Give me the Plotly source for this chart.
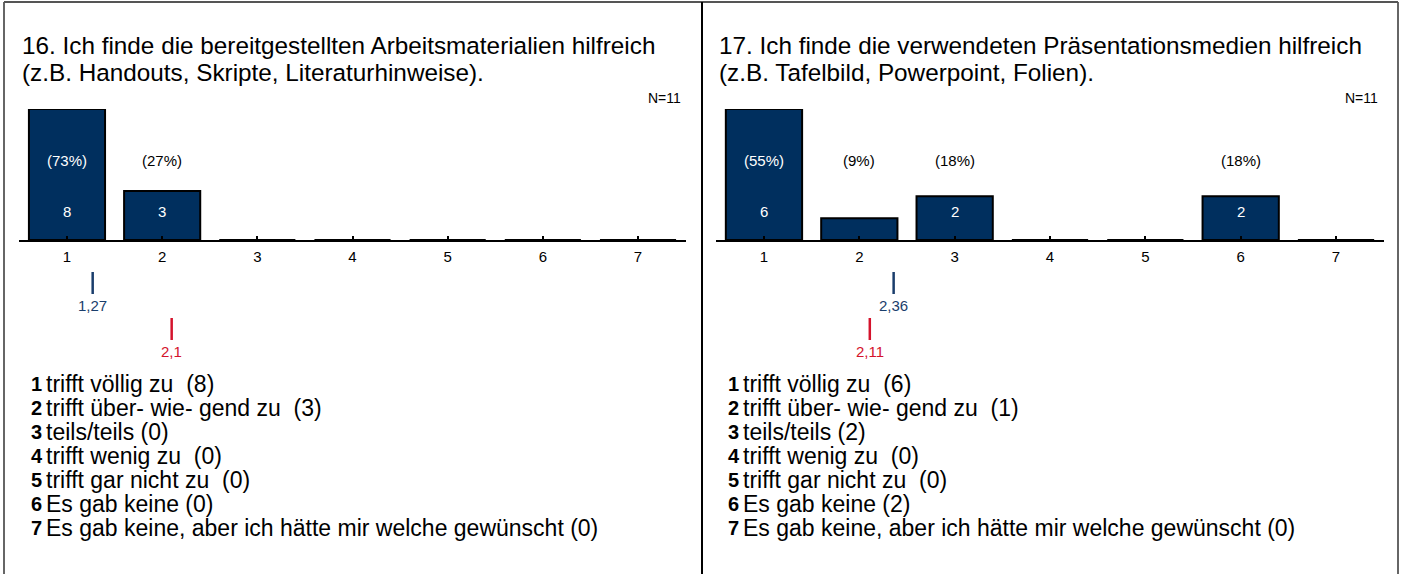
import plotly.graph_objects as go

W, H = 1401, 574

categories = [1, 2, 3, 4, 5, 6, 7]
tick_labels = ["1", "2", "3", "4", "5", "6", "7"]

titles = [
    ["16. Ich finde die bereitgestellten Arbeitsmaterialien hilfreich",
     "(z.B. Handouts, Skripte, Literaturhinweise)."],
    ["17. Ich finde die verwendeten Präsentationsmedien hilfreich",
     "(z.B. Tafelbild, Powerpoint, Folien)."],
]
counts_16 = [8, 3, 0, 0, 0, 0, 0]
counts_17 = [6, 1, 2, 0, 0, 2, 0]
percent_16 = ["(73%)", "(27%)", "", "", "", "", ""]
percent_17 = ["(55%)", "(9%)", "(18%)", "", "", "(18%)", ""]
n_values = [11, 11]
mean_values = [1.27, 2.36]
mean_labels = ["1,27", "2,36"]
ref_values = [2.1, 2.11]
ref_labels = ["2,1", "2,11"]

legend_labels = [
    "trifft völlig zu  ({})",
    "trifft über- wie- gend zu  ({})",
    "teils/teils ({})",
    "trifft wenig zu  ({})",
    "trifft gar nicht zu  ({})",
    "Es gab keine ({})",
    "Es gab keine, aber ich hätte mir welche gewünscht ({})",
]

BAR = "#002F5E"
BLUE = "#1A3E6C"
RED = "#D4132C"
FONT = "Liberation Sans, Arial, sans-serif"


def px_x(p):
    return p / W


def px_y(p):
    return 1 - p / H


panels = [
    dict(counts=counts_16, pct=percent_16, x0=19.4, x1=685.6, off=0),
    dict(counts=counts_17, pct=percent_17, x0=716.3, x1=1383.7, off=697),
]

fig = go.Figure()
annotations = []
shapes = []

for i, p in enumerate(panels):
    xa = "x" if i == 0 else "x2"
    ya = "y" if i == 0 else "y2"
    xkey = "xaxis" if i == 0 else "xaxis2"
    ykey = "yaxis" if i == 0 else "yaxis2"
    cmax = max(p["counts"])
    fig.add_trace(go.Bar(
        x=categories, y=p["counts"], xaxis=xa, yaxis=ya, width=0.8,
        marker=dict(color=BAR, line=dict(color="black", width=2)),
        textposition="none", hoverinfo="skip", showlegend=False,
    ))
    fig.update_layout(**{
        xkey: dict(domain=[px_x(p["x0"]), px_x(p["x1"])], range=[0.5, 7.5],
                   tickvals=categories, ticktext=tick_labels, ticks="inside",
                   ticklen=4, tickwidth=2, tickcolor="black", showline=True,
                   linewidth=2, linecolor="black", showgrid=False, zeroline=False,
                   anchor=ya, tickfont=dict(size=15, color="black", family=FONT),
                   ticklabelstandoff=2, fixedrange=True),
        ykey: dict(domain=[px_y(240), px_y(109)], range=[0, cmax], visible=False,
                   showgrid=False, zeroline=False, anchor=xa, fixedrange=True),
    })
    dom = ("y domain" if i == 0 else "y2 domain")
    for c, v, t in zip(categories, p["counts"], p["pct"]):
        if v > 0:
            annotations.append(dict(x=c, y=0.137, xref=xa, yref=dom, text=str(v),
                                    showarrow=False, font=dict(size=15, color="white", family=FONT)))
        if t:
            inside = v / cmax > 0.68
            annotations.append(dict(x=c, y=0.61, xref=xa, yref=dom, text=t,
                                    showarrow=False,
                                    font=dict(size=15, color="white" if inside else "black", family=FONT)))
    # title (two lines)
    for j, line in enumerate(titles[i]):
        annotations.append(dict(x=px_x(20 + p["off"]), y=px_y(45 + 28 * j), xref="paper", yref="paper",
                                xanchor="left", yanchor="middle", align="left", text=line,
                                showarrow=False, font=dict(size=24.3, color="black", family=FONT)))
    # N
    annotations.append(dict(x=px_x(683 + p["off"]), y=px_y(98), xref="paper", yref="paper",
                            xanchor="right", yanchor="middle", text=f"N={n_values[i]}",
                            showarrow=False, font=dict(size=14, color="black", family=FONT)))
    # mean markers
    shapes.append(dict(type="line", xref=xa, yref="paper", x0=mean_values[i], x1=mean_values[i],
                       y0=px_y(272), y1=px_y(294), line=dict(color=BLUE, width=2.5)))
    annotations.append(dict(x=mean_values[i], y=px_y(305), xref=xa, yref="paper", text=mean_labels[i],
                            showarrow=False, font=dict(size=15, color=BLUE, family=FONT)))
    shapes.append(dict(type="line", xref=xa, yref="paper", x0=ref_values[i], x1=ref_values[i],
                       y0=px_y(318), y1=px_y(340), line=dict(color=RED, width=2.5)))
    annotations.append(dict(x=ref_values[i], y=px_y(351), xref=xa, yref="paper", text=ref_labels[i],
                            showarrow=False, font=dict(size=15, color=RED, family=FONT)))
    # legend
    for k, (c, lab) in enumerate(zip(categories, legend_labels)):
        yy = px_y(384 + 24 * k)
        annotations.append(dict(x=px_x(29 + p["off"]), y=yy, xref="paper", yref="paper",
                                xanchor="left", yanchor="middle", text=f"<b>{c}</b>",
                                showarrow=False, font=dict(size=20, color="black", family=FONT)))
        annotations.append(dict(x=px_x(44 + p["off"]), y=yy, xref="paper", yref="paper",
                                xanchor="left", yanchor="middle", text=lab.format(p["counts"][k]),
                                showarrow=False, font=dict(size=23, color="black", family=FONT)))

# frame
shapes.append(dict(type="line", xref="paper", yref="paper", x0=px_x(4), x1=px_x(4), y0=0, y1=px_y(2),
                   line=dict(color="#666666", width=2)))
shapes.append(dict(type="line", xref="paper", yref="paper", x0=px_x(1398), x1=px_x(1398), y0=0, y1=px_y(2),
                   line=dict(color="#666666", width=2)))
shapes.append(dict(type="line", xref="paper", yref="paper", x0=px_x(4), x1=px_x(1398), y0=px_y(2), y1=px_y(2),
                   line=dict(color="#555555", width=2)))
shapes.append(dict(type="line", xref="paper", yref="paper", x0=px_x(702), x1=px_x(702), y0=0, y1=px_y(2),
                   line=dict(color="black", width=2)))

fig.update_layout(
    width=W, height=H, margin=dict(l=0, r=0, t=0, b=0),
    paper_bgcolor="white", plot_bgcolor="white",
    annotations=annotations, shapes=shapes, bargap=0.2,
    font=dict(family=FONT),
)

fig.write_html("out.html", config={"displayModeBar": False},
               post_script="document.body.style.margin='0';document.body.style.overflow='hidden';")
